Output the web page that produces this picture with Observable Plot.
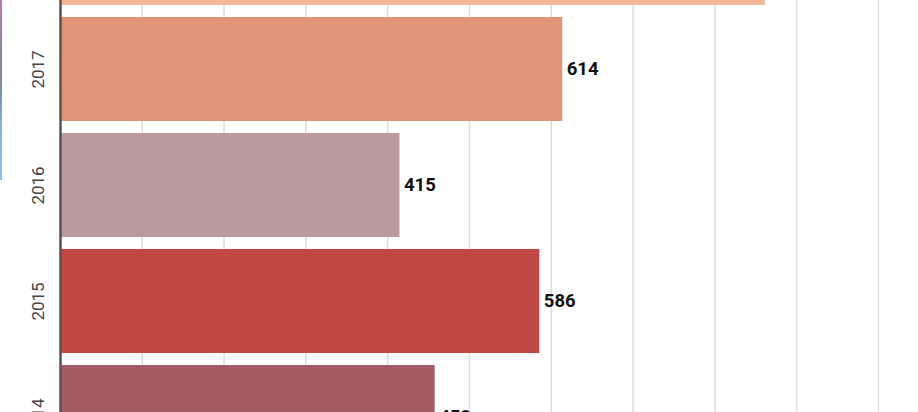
<!DOCTYPE html>
<html>
<head>
<meta charset="utf-8">
<script src="https://cdn.jsdelivr.net/npm/d3@7"></script>
<script src="https://cdn.jsdelivr.net/npm/@observablehq/plot@0.6"></script>
<style>
  html, body { margin: 0; padding: 0; background: #fff; overflow: hidden; width: 918px; height: 412px; }
  #edge { position: absolute; left: 0; top: 0; width: 2px; height: 180px;
          background: linear-gradient(#c07ab0 0%, #8a82a8 30%, #7c8cb0 50%, #86b4e0 70%, #8cc0ec 100%); }
  #chart { position: absolute; left: 0; top: 0; }
</style>
</head>
<body>
<div id="chart"></div>
<div id="edge"></div>
<script>
const years = ["2018", "2017", "2016", "2015", "2014"];
const values = [862, 614, 415, 586, 458];
const colors = ["#f4b898", "#e29477", "#bb9b9d", "#c04744", "#a35c64"];
const gridTicks = d3.range(0, 1001, 100);

const data = years.map((y, i) => ({year: y, value: values[i]}));

const chart = Plot.plot({
  width: 918,
  height: 412,
  marginLeft: 60,
  marginRight: 40,
  marginTop: 0,
  marginBottom: 0,
  style: {fontFamily: "Roboto, sans-serif", background: "#fff", overflow: "visible"},
  x: {domain: [0, 1000], axis: null},
  y: {domain: years, range: [-104.8, 475.2], paddingInner: 0.1, paddingOuter: 0.05, label: null},
  color: {domain: years, range: colors},
  marks: [
    Plot.gridX(gridTicks, {stroke: "#dcdcdc", strokeOpacity: 1, strokeWidth: 1.5}),
    Plot.barX(data, {x: "value", y: "year", fill: "year"}),
    Plot.text(data, {x: "value", y: "year", text: d => String(d.value), textAnchor: "start", dx: 4,
                     fontWeight: "bold", fontSize: 18.5, fill: "#111"}),
    Plot.axisY({tickSize: 0, tickRotate: -90, tickPadding: 17, fontSize: 17, color: "#444", label: null}),
    Plot.ruleX([0], {stroke: "#555", strokeWidth: 2.5})
  ]
});
document.getElementById("chart").appendChild(chart);
</script>
</body>
</html>
